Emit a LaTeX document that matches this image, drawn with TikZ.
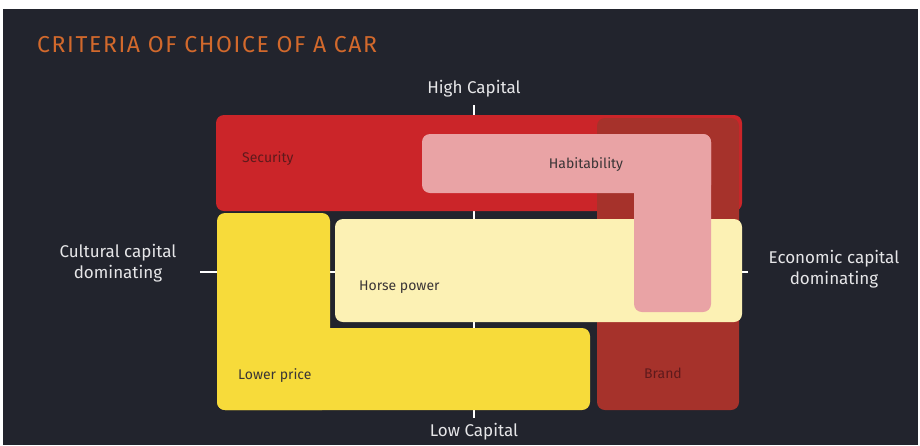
\documentclass[tikz,border=0pt]{standalone}
\usepackage{fontspec}
\setmainfont{Fira Sans}
\definecolor{board}{HTML}{22242D}
\definecolor{titleorange}{HTML}{D2692C}
\definecolor{axistext}{HTML}{E6E6E8}
\definecolor{securityred}{HTML}{CB2529}
\definecolor{brandred}{HTML}{A6322B}
\definecolor{habitpink}{HTML}{E9A3A5}
\definecolor{horseyellow}{HTML}{FCF1B4}
\definecolor{priceyellow}{HTML}{F7DB3A}
\definecolor{darktext}{HTML}{3A3536}
\definecolor{redtext}{HTML}{5E1A1C}
\pgfdeclarelayer{backlayer}
\pgfdeclarelayer{axislayer}
\pgfsetlayers{backlayer,axislayer,main}
\tikzstyle{title_text}=[font=\fontsize{23}{27}\selectfont\addfontfeature{LetterSpace=7}, text=titleorange, inner sep=0pt]
\tikzstyle{axis_label}=[font=\fontsize{17}{21.5}\selectfont, text=axistext, align=center, inner sep=0pt]
\tikzstyle{axis_line}=[draw=white, line width=2pt]
\tikzstyle{box_label}=[font=\fontsize{14}{17}\selectfont, text=darktext, inner sep=0pt]
\tikzstyle{crit_box}=[rounded corners=8pt]

\begin{document}
\begin{tikzpicture}[x=1pt, y=-1pt]
	\begin{pgfonlayer}{backlayer}
		\fill[white] (0,0) rectangle (920,445);
		\fill[board] (3,9) rectangle (918,445);
	\end{pgfonlayer}
	\useasboundingbox (0,0) rectangle (920,445);
	\node [style={title_text}, anchor=base west] (title) at (37,52) {CRITERIA OF CHOICE OF A CAR};
	% axes
	\node [style={axis_label}] (high) at (474,89) {High Capital};
	\node [style={axis_label}] (low) at (474,432) {Low Capital};
	\node [style={axis_label}] (cultural) at (118,263) {Cultural capital\\dominating};
	\node [style={axis_label}] (economic) at (834,269) {Economic capital\\dominating};
	\coordinate (axis_top) at (474,105);
	\coordinate (axis_bottom) at (474,418);
	\coordinate (axis_left) at (200,272);
	\coordinate (axis_right) at (748,272);
	\begin{pgfonlayer}{axislayer}
		\draw [style={axis_line}] (axis_top) -- (axis_bottom);
		\draw [style={axis_line}] (axis_left) -- (axis_right);
	\end{pgfonlayer}
	% criteria
	\fill [style={crit_box}, fill=securityred] (216,115) rectangle (742,211);
	\fill [style={crit_box}, fill=brandred] (597,118) rectangle (739,410);
	\fill [style={crit_box}, fill=horseyellow] (335,219) rectangle (742,322);
	\fill [style={crit_box}, fill=habitpink] (422,134) rectangle (711,193);
	\fill [style={crit_box}, fill=habitpink] (634,134) rectangle (711,312);
	\fill [style={crit_box}, fill=priceyellow] (217,213) rectangle (330,410);
	\fill [style={crit_box}, fill=priceyellow] (217,328) rectangle (590,410);
	\node [style={box_label}, text=redtext, anchor=west] (security) at (242,159) {Security};
	\node [style={box_label}] (habitability) at (586,165) {Habitability};
	\node [style={box_label}, anchor=west] (horsepower) at (359,287) {Horse power};
	\node [style={box_label}, anchor=west] (lowerprice) at (238,376) {Lower price};
	\node [style={box_label}, text=redtext] (brand) at (663,373) {Brand};
\end{tikzpicture}
\end{document}
